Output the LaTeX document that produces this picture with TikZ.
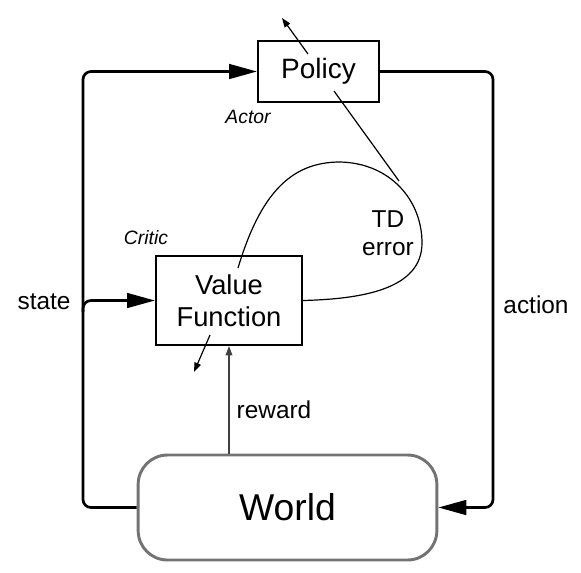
\documentclass[tikz,border=0pt]{standalone}
\usepackage{fontspec}
\setmainfont{Liberation Sans}
\usetikzlibrary{arrows.meta}
\usetikzlibrary{calc}

\tikzset{
  box/.style={draw, line width=1.5pt, inner sep=0pt},
  bus/.style={line width=2pt, rounded corners=6pt},
  bigtip/.style={-{Triangle[length=21pt,width=11pt]}},
  fineline/.style={line width=0.9pt},
  smalltip/.style={-{Triangle[length=7pt,width=5pt]}},
  lbl/.style={font=\fontsize{18.3}{21}\selectfont, inner sep=0pt},
  role/.style={font=\itshape\fontsize{14.5}{17}\selectfont, inner sep=0pt}
}

\begin{document}
\begin{tikzpicture}[x=0.75pt, y=-0.75pt]
\useasboundingbox (0,0) rectangle (581,572);

\node[box, minimum width=90.75pt, minimum height=45.75pt, font=\fontsize{21}{25}\selectfont] (policy) at (318.5,71.5) {Policy};
\node[box, minimum width=109.5pt, minimum height=66.75pt, align=center, font=\fontsize{20.5}{23.8}\selectfont] (valuefn) at (229,300.5) {Value\\Function};
\node[draw=black!55, line width=2.2pt, rounded corners=22pt, minimum width=224pt, minimum height=78.75pt, font=\fontsize{28}{33}\selectfont] (world) at (287.5,507.5) {World};

\node[role] (actor) at (248,117) {Actor};
\node[role] (critic) at (146,238) {Critic};
\node[lbl, align=center] (tderror) at (388,233) {TD\\error};
\node[lbl] (state) at (44,302) {state};
\node[lbl] (action) at (536,304.5) {action};
\node[lbl] (reward) at (274,409.5) {reward};

\coordinate (lbus) at (83,300);
\coordinate (rbus) at (493,300);
\draw[bus, bigtip] (world.west) -| (lbus) |- (policy.west);
\draw[bus, bigtip] (policy.east) -| (rbus) |- (world.east);
\draw[bus, bigtip] ($(lbus)+(0,12)$) |- (valuefn.west);

\draw[fineline, black!75, smalltip] (valuefn.south |- world.north) -- (valuefn.south);

\coordinate (vfstart) at (210,335);
\coordinate (vfout) at (194,372);
\draw[fineline, smalltip] (vfstart) -- (vfout);
\coordinate (polstart) at (308,54);
\coordinate (polout) at (282,18);
\draw[fineline, smalltip] (polstart) -- (polout);

\coordinate (tdend) at (238,268);
\draw[fineline] (valuefn.east) .. controls (360,299) and (422,290) .. (422,243)
  .. controls (422,200) and (390,163) .. (340,162)
  .. controls (290,162) and (260,195) .. (tdend);
\coordinate (poltd) at (334,91);
\coordinate (tdjoin) at (399,181);
\draw[fineline] (poltd) -- (tdjoin);
\end{tikzpicture}
\end{document}
